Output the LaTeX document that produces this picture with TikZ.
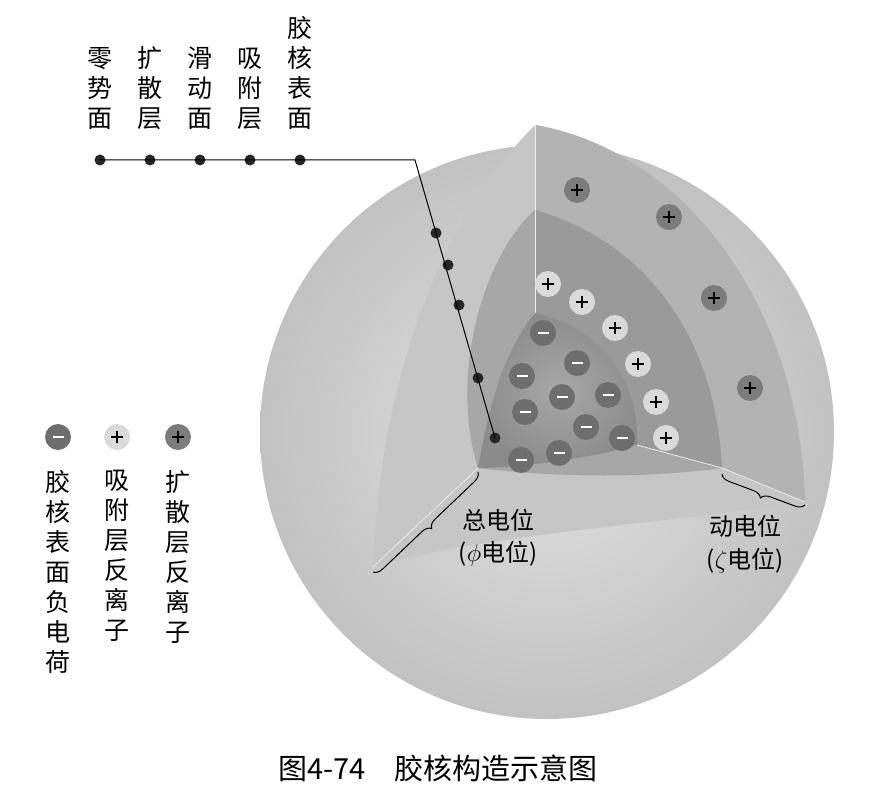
\documentclass[tikz,border=0pt]{standalone}
\usepackage{fontspec}
\setmainfont{Noto Sans CJK SC}
\usetikzlibrary{decorations.pathreplacing}
\definecolor{sphA}{HTML}{E2E2E2}
\definecolor{sphB}{HTML}{C2C2C2}
\definecolor{outL}{HTML}{C6C6C6}
\definecolor{outR}{HTML}{B3B3B3}
\definecolor{midL}{HTML}{A7A7A7}
\definecolor{midR}{HTML}{9A9A9A}
\definecolor{coreA}{HTML}{A8A8A8}
\definecolor{coreB}{HTML}{8C8C8C}
\definecolor{negc}{HTML}{6E6E6E}
\definecolor{adsc}{HTML}{DADADA}
\definecolor{difc}{HTML}{7C7C7C}
\tikzset{
  ion/.style={circle,minimum size=26pt,inner sep=0pt},
  neg/.style={ion,fill=negc,path picture={\draw[white,line width=1.8pt](-5.5pt,0)--(5.5pt,0);}},
  ads/.style={ion,fill=adsc,path picture={\draw[black,line width=1.4pt](-6pt,0)--(6pt,0)(0,-6pt)--(0,6pt);}},
  dif/.style={ion,fill=difc,path picture={\draw[black,line width=1.4pt](-6pt,0)--(6pt,0)(0,-6pt)--(0,6pt);}},
  dot/.style={circle,fill=black!85,minimum size=11pt,inner sep=0pt},
  vlab/.style={align=center,font=\fontsize{25}{30}\selectfont,inner sep=0pt},
  lab/.style={font=\fontsize{24}{32}\selectfont,inner sep=0pt},
  seam/.style={white!85!gray,line width=0.8pt},
  brace/.style={decorate,decoration={brace,amplitude=9pt},line width=1pt}
}
\begin{document}
\begin{tikzpicture}[x=1pt,y=-1pt]
\useasboundingbox (0,0) rectangle (878,805);
\fill[white] (0,0) rectangle (878,805);
% sphere
\shade[inner color=sphA,outer color=sphB] (547,432) circle[radius=287pt];
% outer shell cut
\fill[outL] (535,125) .. controls (680,150) and (800,300) .. (805,502)
  .. controls (650,525) and (480,535) .. (373,567)
  .. controls (380,380) and (440,220) .. (535,125) -- cycle;
\fill[outR] (535,125) .. controls (680,150) and (800,300) .. (805,502)
  -- (722,468) .. controls (715,330) and (640,240) .. (535,210) -- cycle;
% middle layer
\fill[midL] (535,210) .. controls (640,240) and (715,330) .. (722,468)
  .. controls (650,478) and (560,478) .. (478,468)
  .. controls (450,380) and (480,260) .. (535,210) -- cycle;
\fill[midR] (535,210) .. controls (640,240) and (715,330) .. (722,468)
  -- (637,445) .. controls (640,390) and (610,330) .. (535,313) -- cycle;
% core
\shade[inner color=coreA,outer color=coreB] (535,313) .. controls (610,330) and (640,390) .. (637,445)
  .. controls (590,458) and (520,468) .. (478,468)
  .. controls (490,400) and (505,350) .. (535,313) -- cycle;
% seams
\draw[seam] (535,125) -- (535,313);
\draw[seam] (637,445) -- (722,468) -- (805,502);
\draw[seam] (478,468) -- (373,567);
% ions
\foreach \i/\x/\y in {1/543/333,2/577/363,3/522/376,4/562/397,5/608/395,6/525/412,7/586/427,8/622/438,9/559/453,10/521/460}
  \node[neg] (n\i) at (\x,\y) {};
\foreach \i/\x/\y in {1/548/284,2/582/302,3/615/328,4/638/364,5/656/402,6/666/438}
  \node[ads] (a\i) at (\x,\y) {};
\foreach \i/\x/\y in {1/577/190,2/669/217,3/714/298,4/750/388}
  \node[dif] (d\i) at (\x,\y) {};
% connector
\foreach \i/\x in {1/100,2/150,3/200,4/250,5/300}
  \node[dot] (t\i) at (\x,160) {};
\coordinate (bend) at (415,160);
\foreach \i/\x/\y in {1/436/233,2/448/265,3/459/305,4/478/378,5/495/438}
  \node[dot] (s\i) at (\x,\y) {};
\draw[line width=1pt] (t1.center) -- (t5.center) -- (bend) -- (s5.center);
% top labels
\node[vlab,anchor=south] (l1) at (100,130) {零\\势\\面};
\node[vlab,anchor=south] (l2) at (150,130) {扩\\散\\层};
\node[vlab,anchor=south] (l3) at (200,130) {滑\\动\\面};
\node[vlab,anchor=south] (l4) at (250,130) {吸\\附\\层};
\node[vlab,anchor=south] (l5) at (300,130) {胶\\核\\表\\面};
% legend
\node[neg] (g1) at (58,437) {};
\node[ads] (g2) at (117,437) {};
\node[dif] (g3) at (178,437) {};
\node[vlab,anchor=north] (gl1) at (58,470) {胶\\核\\表\\面\\负\\电\\荷};
\node[vlab,anchor=north] (gl2) at (117,470) {吸\\附\\层\\反\\离\\子};
\node[vlab,anchor=north] (gl3) at (178,470) {扩\\散\\层\\反\\离\\子};
% braces
\coordinate (b1a) at (478,472);
\coordinate (b1b) at (373,572);
\draw[brace] (b1a) -- (b1b);
\coordinate (b2a) at (805,505);
\coordinate (b2b) at (722,474);
\draw[brace] (b2a) -- (b2b);
\node[lab] (p1) at (498,520) {总电位};
\node[lab] (p2) at (498,554) {($\phi$电位)};
\node[lab] (z1) at (745,526) {动电位};
\node[lab] (z2) at (745,561) {($\zeta$电位)};
% caption
\node[font=\fontsize{29}{34}\selectfont,inner sep=0pt] (cap) at (438,768) {图4-74\quad 胶核构造示意图};
\end{tikzpicture}
\end{document}
